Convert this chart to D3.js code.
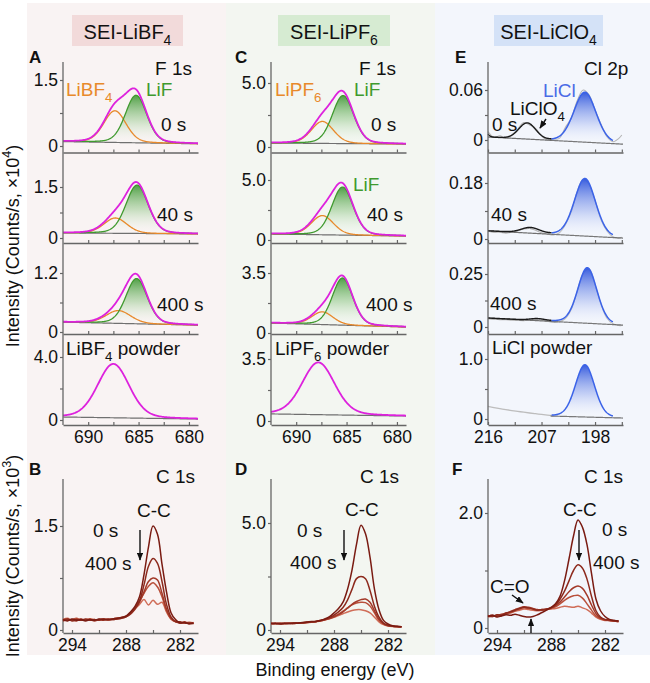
<!DOCTYPE html>
<html><head><meta charset="utf-8">
<script src="https://cdn.jsdelivr.net/npm/d3@7/dist/d3.min.js"></script>
<style>body{margin:0;background:#fff}svg{display:block;font-family:"Liberation Sans",Arial,Helvetica,sans-serif}</style>
</head><body><svg id="fig" width="650" height="683"></svg>
<script>
// ================= DATA =================
const timeLabels = ['0 s', '40 s', '400 s'];
// F 1s binding energy axis (eV)
const f1sDomain = [692.5, 679.1];
const f1sTicks = [690, 687.5, 685, 682.5, 680];
const f1sTickLabels = [690, 685, 680];
// Panel A, SEI-LiBF4 (x10^4 counts/s). Fitted peaks: [centre eV, height, FWHM eV]
const aBackground = [[0.10, 0.05], [0.15, 0.12], [0.20, 0.14], [0.19, 0.06]];
const aLiF = [[685.25, 1.08, 2.5], [685.15, 1.42, 2.6], [685.2, 0.92, 2.5]];
const aLiBF4 = [[687.35, 0.72, 2.6], [687.3, 0.45, 2.7], [687.0, 0.26, 2.9]];
const aPowder = [687.5, 3.42, 3.7];
const aYTicks = [1.5, 1.5, 1.2, 4.0];
// Panel C, SEI-LiPF6
const cBackground = [[0.31, 0.23], [0.50, 0.33], [0.58, 0.35], [0.40, 0.28]];
const cLiF = [[685.35, 3.75, 2.5], [685.4, 4.0, 2.5], [685.4, 2.75, 2.4]];
const cLiPF6 = [[687.4, 1.72, 2.6], [687.4, 1.6, 2.6], [687.4, 0.74, 2.5]];
const cPowder = [687.8, 2.95, 3.8];
const cYTicks = [5.0, 5.0, 3.5, 3.5];
// Panel E, SEI-LiClO4, Cl 2p
const cl2pDomain = [216, 193.3];
const cl2pTicks = [216, 211.5, 207, 202.5, 198, 193.5];
const cl2pTickLabels = [216, 207, 198];
const eBackground = [[0.0036, -0.005], [0.026, 0.003], [0.042, 0.009], [0.079, 0.016]];
const eLiCl = [[199.7, 0.06, 4.4], [199.7, 0.185, 4.2], [199.3, 0.262, 3.8], [199.7, 0.87, 3.8]];
const eLiClO4 = [[[209.4, 0.019, 3.3], [216.6, 0.007, 1.2]], [[208.9, 0.017, 3.5]], [[207.7, 0.008, 2.8]]];
const eRawX = [216, 215, 214, 213, 212, 211, 210, 209, 208, 207, 206, 205, 204, 203, 202, 201, 200, 199, 198, 197, 196, 195, 194, 193.5];
const eRaw0s = [0.010, 0.003, 0.005, 0.002, 0.006, 0.013, 0.021, 0.018, 0.014, 0.005, 0.0, 0.001, 0.002, 0.015, 0.026, 0.047, 0.06, 0.054, 0.036, 0.019, 0.004, -0.002, 0.002, 0.006];
const eRaw40s = [0.025, 0.021, 0.022, 0.019, 0.022, 0.026, 0.032, 0.034, 0.028, 0.02, 0.016, 0.013, 0.02, 0.045, 0.087, 0.152, 0.192, 0.175, 0.124, 0.062, 0.026, 0.007, 0.003, 0.006];
const eRaw400s = [0.039, 0.036, 0.035, 0.034, 0.032, 0.031, 0.030, 0.033, 0.036, 0.032, 0.027, 0.022, 0.025, 0.04, 0.083, 0.168, 0.252, 0.273, 0.2, 0.108, 0.041, 0.015, 0.007, 0.007];
const eRawPowderX = [216, 215, 214, 213, 212, 211, 210, 209, 208, 207, 206, 205];
const eRawPowder = [0.21, 0.19, 0.172, 0.156, 0.141, 0.127, 0.113, 0.1, 0.088, 0.076, 0.065, 0.055];
const eYTicks = [0.06, 0.18, 0.25, 1.0];
// C 1s (x10^3 counts/s), spectra 0 s ... 400 s
const c1sDomain = [295, 280];
const c1sTicks = [294, 291, 288, 285, 282];
const c1sTickLabels = [294, 288, 282];
const c1sEnergy = [295, 294.5, 294, 293.5, 293, 292.5, 292, 291.5, 291, 290.5, 290, 289.5, 289, 288.5, 288, 287.5, 287, 286.5, 286, 285.5, 285, 284.5, 284, 283.5, 283, 282.5, 282, 281.5, 281, 280.5];
const bC1s = [
  [0.15,0.13,0.16,0.14,0.15,0.13,0.15,0.14,0.16,0.15, 0.15,0.16,0.17,0.18,0.2,0.26,0.34,0.48,0.8,1.2, 1.5,1.38,0.95,0.55,0.25,0.15,0.1,0.11,0.09,0.1],
  [0.14,0.16,0.13,0.15,0.14,0.16,0.14,0.15,0.14,0.16, 0.15,0.15,0.16,0.17,0.19,0.24,0.31,0.42,0.65,0.92, 1.03,0.96,0.7,0.37,0.19,0.12,0.12,0.1,0.1,0.09],
  [0.13,0.15,0.14,0.13,0.16,0.14,0.15,0.13,0.15,0.14, 0.16,0.15,0.16,0.17,0.19,0.23,0.3,0.4,0.55,0.7, 0.75,0.72,0.53,0.3,0.17,0.12,0.1,0.11,0.09,0.1],
  [0.16,0.14,0.15,0.17,0.14,0.15,0.16,0.14,0.15,0.16, 0.14,0.16,0.17,0.18,0.2,0.24,0.32,0.42,0.53,0.63, 0.68,0.62,0.48,0.28,0.16,0.12,0.11,0.1,0.11,0.1],
  [0.15,0.17,0.14,0.16,0.15,0.14,0.16,0.15,0.14,0.16, 0.15,0.16,0.17,0.18,0.2,0.25,0.31,0.37,0.44,0.36, 0.43,0.37,0.4,0.26,0.16,0.13,0.1,0.12,0.1,0.11]
];
const dC1s = [
  [0.3,0.32,0.28,0.31,0.3,0.33,0.32,0.35,0.37,0.4, 0.4,0.45,0.52,0.62,0.8,1.0,1.3,1.9,2.8,4.0, 4.9,4.5,3.4,1.9,0.95,0.45,0.28,0.2,0.17,0.15],
  [0.3,0.29,0.32,0.3,0.31,0.3,0.33,0.34,0.36,0.38, 0.4,0.44,0.5,0.58,0.7,0.85,1.05,1.4,1.9,2.4, 2.5,2.4,1.85,1.1,0.6,0.32,0.22,0.18,0.16,0.15],
  [0.31,0.3,0.29,0.32,0.3,0.31,0.33,0.33,0.35,0.37, 0.4,0.43,0.48,0.54,0.62,0.72,0.85,1.02,1.2,1.33, 1.42,1.45,1.3,0.9,0.5,0.3,0.21,0.17,0.16,0.15],
  [0.3,0.31,0.3,0.29,0.31,0.32,0.31,0.34,0.35,0.38, 0.4,0.44,0.49,0.55,0.64,0.74,0.88,1.03,1.17,1.26, 1.3,1.28,1.12,0.8,0.45,0.28,0.2,0.17,0.15,0.15],
  [0.29,0.3,0.31,0.3,0.32,0.3,0.32,0.33,0.35,0.36, 0.39,0.42,0.47,0.52,0.59,0.68,0.76,0.84,0.91,0.95, 0.95,0.9,0.8,0.6,0.38,0.25,0.19,0.16,0.15,0.14]
];
const fC1s = [
  [0.2,0.22,0.19,0.21,0.23,0.22,0.24,0.22,0.2,0.19, 0.2,0.23,0.27,0.31,0.36,0.42,0.55,0.82,1.2,1.6, 1.88,1.75,1.45,0.95,0.5,0.3,0.2,0.15,0.13,0.12],
  [0.21,0.2,0.23,0.22,0.26,0.28,0.31,0.34,0.36,0.35, 0.33,0.31,0.32,0.33,0.35,0.4,0.5,0.64,0.82,1.0, 1.1,1.04,0.85,0.55,0.3,0.19,0.15,0.14,0.13,0.12],
  [0.2,0.22,0.21,0.24,0.25,0.29,0.32,0.35,0.37,0.36, 0.34,0.32,0.31,0.33,0.35,0.39,0.45,0.54,0.63,0.7, 0.73,0.69,0.57,0.4,0.25,0.17,0.14,0.13,0.12,0.12],
  [0.22,0.2,0.22,0.23,0.26,0.27,0.3,0.33,0.35,0.34, 0.33,0.31,0.32,0.32,0.34,0.37,0.42,0.48,0.53,0.56, 0.57,0.52,0.42,0.31,0.21,0.16,0.14,0.13,0.12,0.11],
  [0.19,0.21,0.2,0.22,0.24,0.26,0.29,0.31,0.33,0.32, 0.31,0.3,0.31,0.32,0.33,0.34,0.36,0.38,0.37,0.36, 0.38,0.35,0.32,0.26,0.19,0.15,0.13,0.13,0.12,0.11]
];
const c1sYTicks = [1.5, 5.0, 2.0];

// ================= DRAWING =================
const svg = d3.select('#fig');
const defs = svg.append('defs');
const COL = {mag:'#dd22dd', grn:'#3f9a2e', org:'#e8892b', blue:'#3b63e8', gray:'#707070', raw:'#b4b4b4', axis:'#666'};
const c1sColors = ['#7a1b12', '#8d2a1d', '#a33a2a', '#b9503b', '#d06d58'];

function makeGrad(id, stops) {
  const g = defs.append('linearGradient').attr('id', id).attr('x1', 0).attr('y1', 0).attr('x2', 0).attr('y2', 1);
  stops.forEach(s => g.append('stop').attr('offset', s[0]).attr('stop-color', s[1]).attr('stop-opacity', s[2]));
}
makeGrad('gGreen', [[0, '#3e9634', 0.9], [0.5, '#86c27c', 0.45], [1, '#ffffff', 0.05]]);
makeGrad('gBlue', [[0, '#2f55dc', 0.95], [0.55, '#93a8ee', 0.5], [1, '#ffffff', 0.1]]);
const mk = defs.append('marker').attr('id', 'ah').attr('viewBox', '0 0 10 8').attr('refX', 9).attr('refY', 4)
  .attr('markerWidth', 8).attr('markerHeight', 6.4).attr('orient', 'auto').attr('markerUnits', 'userSpaceOnUse');
mk.append('path').attr('d', 'M0,0 L10,4 L0,8 z').attr('fill', '#111');

// column backgrounds
[[27, 226, '#f9f3f3'], [226, 435, '#f3f6f1'], [435, 650, '#f3f6fc']].forEach(c =>
  svg.append('rect').attr('x', c[0]).attr('y', 3).attr('width', c[1] - c[0]).attr('height', 652).attr('fill', c[2]));

function txt(x, y, parts, o = {}) {
  const size = o.size || 19;
  const t = svg.append('text').attr('x', x).attr('y', y).attr('font-size', size)
    .attr('fill', o.color || '#111').attr('text-anchor', o.anchor || 'start').attr('font-weight', o.weight || 'normal');
  if (o.transform) t.attr('transform', o.transform);
  let off = 0;
  (Array.isArray(parts) ? parts : [parts]).forEach(p => {
    const s = t.append('tspan');
    let target = 0, str = p;
    if (typeof p === 'object') { target = p.sub ? size * 0.3 : -size * 0.42; str = p.sub || p.sup; s.attr('font-size', size * 0.7); }
    if (target - off !== 0) s.attr('dy', target - off);
    off = target;
    s.text(str);
  });
  return t;
}
function arrow(x1, y1, x2, y2) {
  svg.append('line').attr('x1', x1).attr('y1', y1).attr('x2', x2).attr('y2', y2)
    .attr('stroke', '#111').attr('stroke-width', 1.4).attr('marker-end', 'url(#ah)');
}

// title boxes
[[72, 111, '#f2dada', ['SEI-LiBF', {sub: '4'}]], [278, 112, '#d6ebd2', ['SEI-LiPF', {sub: '6'}]], [494, 109, '#d4e2f7', ['SEI-LiClO', {sub: '4'}]]]
  .forEach(b => {
    svg.append('rect').attr('x', b[0]).attr('y', 15).attr('width', b[1]).attr('height', 31).attr('fill', b[2]);
    txt(b[0] + b[1] / 2, 39, b[3], {size: 20, anchor: 'middle'});
  });

const fmt = v => v === 0 ? '0' : (v < 0.995 ? v.toFixed(2) : v.toFixed(1));
function styleAxis(g) {
  g.attr('font-family', null).attr('font-size', 17.5);
  g.select('.domain').attr('stroke', COL.axis).attr('stroke-width', 1.3);
  g.selectAll('.tick line').attr('stroke', COL.axis).attr('stroke-width', 1.2);
  g.selectAll('.tick text').attr('fill', '#111');
}
function xAxis(x, yPos, ticks, labels, show) {
  const g = svg.append('g').attr('transform', `translate(0,${yPos})`)
    .call(d3.axisBottom(x).tickValues(ticks).tickSizeInner(-3).tickSizeOuter(0).tickPadding(6)
      .tickFormat(v => show && labels.includes(v) ? String(v) : ''));
  styleAxis(g);
}
function yAxis(xPos, y, top) {
  const g = svg.append('g').attr('transform', `translate(${xPos},0)`)
    .call(d3.axisLeft(y).tickValues([0, top / 2, top]).tickSizeInner(3).tickSizeOuter(0).tickPadding(2)
      .tickFormat(v => v === top / 2 ? '' : fmt(v)));
  g.select('.domain').remove();
  styleAxis(g);
}
function vLine(x, y1, y2) {
  svg.append('line').attr('x1', x).attr('x2', x).attr('y1', y1).attr('y2', y2).attr('stroke', COL.axis).attr('stroke-width', 1.3);
}
const pv = (e, p, eta) => { const u = (e - p[0]) / p[2]; return p[1] * (eta / (1 + 4 * u * u) + (1 - eta) * Math.exp(-4 * Math.LN2 * u * u)); };
function stroke(path, color, w) { return path.attr('fill', 'none').attr('stroke', color).attr('stroke-width', w).attr('stroke-linejoin', 'round'); }

const rowAxisY = [152.5, 243, 334, 425];
const topY = 62;

// ---------- F 1s panels (A, C) ----------
const fPanels = [
  {x0: 63, x1: 198, zero: [146, 238, 332, 420], tick: [80, 187, 273, 357], bg: aBackground, lif: aLiF, salt: aLiBF4, powder: aPowder, yt: aYTicks},
  {x0: 271, x1: 406, zero: [147, 240, 333, 421], tick: [83, 180, 273, 359], bg: cBackground, lif: cLiF, salt: cLiPF6, powder: cPowder, yt: cYTicks}
];
const eta = 0.2;
fPanels.forEach(P => {
  const x = d3.scaleLinear().domain(f1sDomain).range([P.x0, P.x1]);
  const xs = d3.range(f1sDomain[1], f1sDomain[0] + 1e-9, 0.05);
  for (let i = 0; i < 4; i++) {
    const y = d3.scaleLinear().domain([0, P.yt[i]]).range([P.zero[i], P.tick[i]]);
    const bg = P.bg[i];
    const bgAt = e => bg[0] + (bg[1] - bg[0]) * (e - f1sDomain[0]) / (f1sDomain[1] - f1sDomain[0]);
    const ln = d3.line().x(d => x(d[0])).y(d => y(d[1]));
    xAxis(x, rowAxisY[i], f1sTicks, f1sTickLabels, i === 3);
    yAxis(P.x0, y, P.yt[i]);
    if (i === 3) {
      stroke(svg.append('path').attr('d', ln(xs.map(e => [e, bgAt(e)]))), COL.gray, 1.2);
      stroke(svg.append('path').attr('d', ln(xs.map(e => [e, bgAt(e) + pv(e, P.powder, eta)]))), COL.mag, 1.8);
      continue;
    }
    const lif = P.lif[i], salt = P.salt[i];
    svg.append('path').attr('fill', 'url(#gGreen)')
      .attr('d', d3.area().x(d => x(d)).y0(d => y(bgAt(d))).y1(d => y(bgAt(d) + pv(d, lif, eta)))(xs));
    stroke(svg.append('path').attr('d', ln(xs.map(e => [e, bgAt(e)]))), COL.gray, 1.2);
    stroke(svg.append('path').attr('d', ln(xs.map(e => [e, bgAt(e) + pv(e, salt, eta)]))), COL.org, 1.3);
    stroke(svg.append('path').attr('d', ln(xs.map(e => [e, bgAt(e) + pv(e, lif, eta)]))), COL.grn, 1.3);
    stroke(svg.append('path').attr('d', ln(xs.map(e => [e, bgAt(e) + pv(e, lif, eta) + pv(e, salt, eta)]))), COL.mag, 1.8);
  }
  vLine(P.x0, topY, rowAxisY[3]);
});

// ---------- Cl 2p panel (E) ----------
{
  const x0 = 488, x1 = 623;
  const zero = [140, 239, 327, 419], tick = [90, 183, 274, 359];
  const x = d3.scaleLinear().domain(cl2pDomain).range([x0, x1]);
  const raws = [eRaw0s, eRaw40s, eRaw400s];
  const split = 205.3, etaCl = 0.15;
  for (let i = 0; i < 4; i++) {
    const y = d3.scaleLinear().domain([0, eYTicks[i]]).range([zero[i], tick[i]]);
    const bg = eBackground[i];
    const bgAt = e => bg[0] + (bg[1] - bg[0]) * (e - cl2pDomain[0]) / (cl2pDomain[1] - cl2pDomain[0]);
    const ln = d3.line().x(d => x(d[0])).y(d => y(d[1]));
    xAxis(x, rowAxisY[i], cl2pTicks, cl2pTickLabels, i === 3);
    yAxis(x0, y, eYTicks[i]);
    const xsBlue = d3.range(195.0, split + 1e-9, 0.05);
    if (i < 3) {
      stroke(svg.append('path').attr('d', d3.line().x((d, k) => x(eRawX[k])).y(d => y(d)).curve(d3.curveCatmullRom)(raws[i])), COL.raw, 1.1);
      const xsAll = d3.range(cl2pDomain[1], cl2pDomain[0] + 1e-9, 0.05);
      stroke(svg.append('path').attr('d', ln(xsAll.map(e => [e, bgAt(e)]))), COL.gray, 1.2);
      const xsBlack = d3.range(split, cl2pDomain[0] + 1e-9, 0.05);
      stroke(svg.append('path').attr('d', ln(xsBlack.map(e => [e, bgAt(e) + d3.sum(eLiClO4[i], p => pv(e, p, 0)) + pv(e, eLiCl[i], etaCl)]))), '#1a1a1a', 1.4);
    } else {
      stroke(svg.append('path').attr('d', d3.line().x((d, k) => x(eRawPowderX[k])).y(d => y(d)).curve(d3.curveCatmullRom)(eRawPowder)), '#bdbdbd', 1.3);
      const xsR = d3.range(cl2pDomain[1], 205.5 + 1e-9, 0.05);
      stroke(svg.append('path').attr('d', ln(xsR.map(e => [e, bgAt(e)]))), COL.gray, 1.2);
    }
    svg.append('path').attr('fill', 'url(#gBlue)')
      .attr('d', d3.area().x(d => x(d)).y0(d => y(bgAt(d))).y1(d => y(bgAt(d) + pv(d, eLiCl[i], etaCl)))(xsBlue));
    stroke(svg.append('path').attr('d', ln(xsBlue.map(e => [e, bgAt(e) + pv(e, eLiCl[i], etaCl)]))), COL.blue, 1.5);
  }
  vLine(x0, topY, rowAxisY[3]);
}

// ---------- C 1s panels (B, D, F) ----------
const cPanels = [
  {x0: 63, x1: 198, zero: 630, tick: 526, data: bC1s, yt: c1sYTicks[0]},
  {x0: 271, x1: 406, zero: 630, tick: 523, data: dC1s, yt: c1sYTicks[1]},
  {x0: 488, x1: 623, zero: 628, tick: 513, data: fC1s, yt: c1sYTicks[2]}
];
cPanels.forEach(P => {
  const x = d3.scaleLinear().domain(c1sDomain).range([P.x0, P.x1]);
  const y = d3.scaleLinear().domain([0, P.yt]).range([P.zero, P.tick]);
  xAxis(x, 633, c1sTicks, c1sTickLabels, true);
  yAxis(P.x0, y, P.yt);
  vLine(P.x0, 479, 633);
  const ln = d3.line().x((d, k) => x(c1sEnergy[k])).y(d => y(d)).curve(d3.curveCatmullRom.alpha(0.5));
  for (let k = P.data.length - 1; k >= 0; k--) {
    stroke(svg.append('path').attr('d', ln(P.data[k])), c1sColors[k], 1.5);
  }
});

// ---------- labels ----------
const L = 19;
// panel letters
[['A', 29, 63], ['C', 235, 63], ['E', 455, 63], ['B', 29, 475], ['D', 235, 475], ['F', 452, 475]]
  .forEach(p => txt(p[1], p[2], p[0], {size: 17, weight: 'bold'}));
// A
txt(155, 75, 'F 1s', {size: L});
txt(66, 96, ['LiBF', {sub: '4'}], {size: L, color: COL.org});
txt(146, 96, 'LiF', {size: L, color: COL.grn});
txt(161, 131, timeLabels[0], {size: L});
txt(157, 221, timeLabels[1], {size: L});
txt(157, 311, timeLabels[2], {size: L});
txt(66, 355, ['LiBF', {sub: '4'}, ' powder'], {size: L});
// C
txt(359, 75, 'F 1s', {size: L});
txt(275, 96, ['LiPF', {sub: '6'}], {size: L, color: COL.org});
txt(354, 96, 'LiF', {size: L, color: COL.grn});
txt(371, 131, timeLabels[0], {size: L});
txt(353, 191, 'LiF', {size: L, color: COL.grn});
txt(367, 221, timeLabels[1], {size: L});
txt(366, 311, timeLabels[2], {size: L});
txt(275, 355, ['LiPF', {sub: '6'}, ' powder'], {size: L});
// E
txt(584, 75, 'Cl 2p', {size: L});
txt(543, 97, 'LiCl', {size: L, color: '#4a6be6'});
txt(510, 115, ['LiClO', {sub: '4'}], {size: L});
arrow(546, 119, 540, 128);
txt(492, 131, timeLabels[0], {size: L});
txt(491, 221, timeLabels[1], {size: L});
txt(490, 310, timeLabels[2], {size: L});
txt(492, 354, 'LiCl powder', {size: L});
// B
txt(156, 483, 'C 1s', {size: L});
txt(137, 517, 'C-C', {size: L});
txt(93, 537, timeLabels[0], {size: L});
txt(85, 570, timeLabels[2], {size: L});
arrow(140, 530, 140, 560);
// D
txt(360, 483, 'C 1s', {size: L});
txt(345, 516, 'C-C', {size: L});
txt(297, 537, timeLabels[0], {size: L});
txt(290, 569, timeLabels[2], {size: L});
arrow(344, 530, 344, 560);
// F
txt(584, 483, 'C 1s', {size: L});
txt(563, 516, 'C-C', {size: L});
txt(602, 536, timeLabels[0], {size: L});
txt(593, 569, timeLabels[2], {size: L});
arrow(579, 530, 579, 560);
txt(490, 593, 'C=O', {size: L});
arrow(512, 595, 523, 603);
arrow(531, 633, 531, 619);
// axis titles
txt(0, 0, ['Intensity (Counts/s, ×10', {sup: '4'}, ')'], {size: 18, anchor: 'middle', transform: 'translate(19,246) rotate(-90)'});
txt(0, 0, ['Intensity (Counts/s, ×10', {sup: '3'}, ')'], {size: 18, anchor: 'middle', transform: 'translate(19,556) rotate(-90)'});
txt(335, 676, 'Binding energy (eV)', {size: 18, anchor: 'middle'});
</script></body></html>
